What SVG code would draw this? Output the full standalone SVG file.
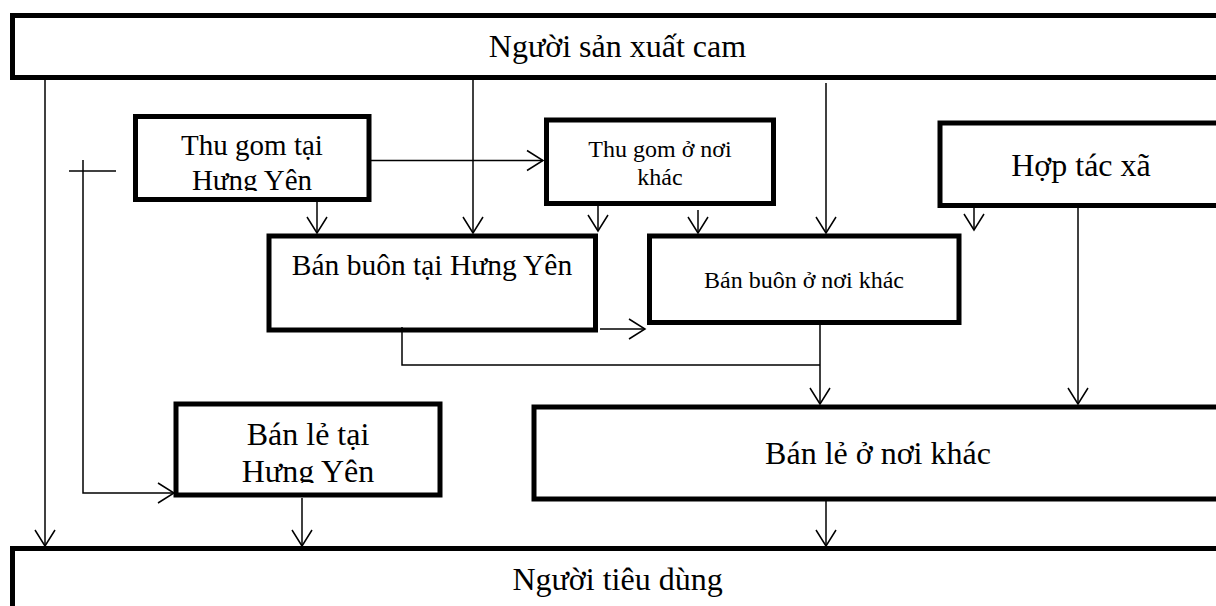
<svg xmlns="http://www.w3.org/2000/svg" width="1216" height="606" viewBox="0 0 1216 606">
<style>
.box{fill:#fff;stroke:#000;stroke-width:5}
.t{font-family:"Liberation Serif","Times New Roman",serif;fill:#000;text-anchor:middle}
.c{fill:none;stroke:#000;stroke-width:1.5}
</style>
<defs>
<marker id="arr" markerUnits="userSpaceOnUse" viewBox="-18 -12 20 24" refX="0" refY="0" markerWidth="20" markerHeight="24" orient="auto" overflow="visible">
<path d="M-16,-10 L0,0 L-16,10" fill="none" stroke="#000" stroke-width="1.5"/>
</marker>
<clipPath id="clipTG"><rect x="138" y="119" width="229" height="72"/></clipPath>
<clipPath id="clipBL"><rect x="178" y="406" width="260" height="77"/></clipPath>
</defs>
<rect width="1216" height="606" fill="#fff"/>
<g id="nguoi-san-xuat">
<rect class="box" x="12.5" y="15.5" width="1210" height="62"/>
<text class="t" x="617.5" y="57" font-size="32">Người sản xuất cam</text>
</g>
<g id="nguoi-tieu-dung">
<rect class="box" x="12.5" y="548.5" width="1210" height="80"/>
<text class="t" x="617.5" y="590" font-size="32">Người tiêu dùng</text>
</g>
<g id="hop-tac-xa">
<rect class="box" x="940" y="123" width="282" height="82.5"/>
<text class="t" x="1081" y="176" font-size="32">Hợp tác xã</text>
</g>
<g id="thu-gom-hy">
<rect class="box" x="135.5" y="116.5" width="233.5" height="83"/>
<g clip-path="url(#clipTG)">
<text class="t" x="252" y="155" font-size="29">Thu gom tại</text>
<text class="t" x="252" y="190" font-size="29">Hưng Yên</text>
</g>
</g>
<g id="thu-gom-khac">
<rect class="box" x="546.5" y="120" width="227" height="83.5"/>
<text class="t" x="660" y="157" font-size="24">Thu gom ở nơi</text>
<text class="t" x="660" y="185" font-size="24">khác</text>
</g>
<g id="ban-buon-hy">
<rect class="box" x="269" y="236" width="326.5" height="94"/>
<text class="t" x="432" y="275" font-size="29.5">Bán buôn tại Hưng Yên</text>
</g>
<g id="ban-buon-khac">
<rect class="box" x="649.5" y="236" width="309.5" height="86.5"/>
<text class="t" x="804" y="288" font-size="24">Bán buôn ở nơi khác</text>
</g>
<g id="ban-le-hy">
<rect class="box" x="176" y="404" width="264" height="91"/>
<g clip-path="url(#clipBL)">
<text class="t" x="308" y="445" font-size="32">Bán lẻ tại</text>
<text class="t" x="308" y="482" font-size="32">Hưng Yên</text>
</g>
</g>
<g id="ban-le-khac">
<rect class="box" x="534" y="407" width="688" height="92"/>
<text class="t" x="878" y="464" font-size="32">Bán lẻ ở nơi khác</text>
</g>
<g id="connectors">
<line class="c" x1="45" y1="80" x2="45" y2="546" marker-end="url(#arr)"/>
<line class="c" x1="473" y1="80" x2="473" y2="233" marker-end="url(#arr)"/>
<line class="c" x1="317" y1="202" x2="317" y2="233" marker-end="url(#arr)"/>
<line class="c" x1="598" y1="206" x2="598" y2="231" marker-end="url(#arr)"/>
<line class="c" x1="698" y1="210" x2="698" y2="233" marker-end="url(#arr)"/>
<line class="c" x1="826" y1="83" x2="826" y2="233" marker-end="url(#arr)"/>
<line class="c" x1="974" y1="208" x2="974" y2="230" marker-end="url(#arr)"/>
<line class="c" x1="1078" y1="208" x2="1078" y2="404" marker-end="url(#arr)"/>
<line class="c" x1="820" y1="325" x2="820" y2="404" marker-end="url(#arr)"/>
<polyline class="c" points="402,327 402,365 820,365"/>
<line class="c" x1="600" y1="329" x2="645" y2="329" marker-end="url(#arr)"/>
<line class="c" x1="371" y1="160.5" x2="543" y2="160.5" marker-end="url(#arr)"/>
<line class="c" x1="69" y1="171" x2="116" y2="171"/>
<polyline class="c" points="83,160 83,493 174,493" marker-end="url(#arr)"/>
<line class="c" x1="302" y1="498" x2="302" y2="546" marker-end="url(#arr)"/>
<line class="c" x1="826" y1="499" x2="826" y2="546" marker-end="url(#arr)"/>
</g>
</svg>
